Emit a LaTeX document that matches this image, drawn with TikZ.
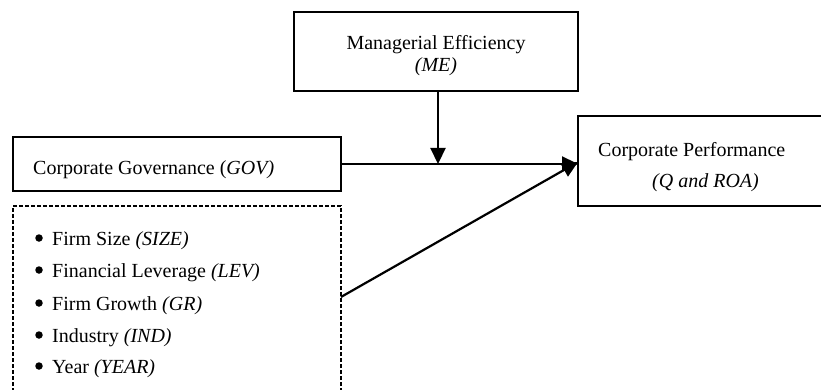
\documentclass[tikz,border=0pt]{standalone}
\usepackage{fontspec}
\setmainfont{Liberation Serif}
\usetikzlibrary{arrows.meta}

\begin{document}
\begin{tikzpicture}[x=1pt,y=-1pt,
  font=\fontsize{20}{24}\selectfont,
  box/.style={draw, line width=1.8pt, rectangle, inner sep=0pt, outer sep=0pt},
  ctrlbox/.style={draw, line width=1.4pt, dash pattern=on 4pt off 2pt, rectangle, inner sep=0pt, outer sep=0pt},
  label/.style={inner sep=0pt, anchor=base west},
  dot/.style={circle, fill, inner sep=0pt, minimum size=7.5pt},
  link/.style={line width=2.2pt, -{Triangle[length=16pt,width=15pt]}}
]
\clip (0,0) rectangle (821,390);

% boxes
\node[box, minimum width=284pt, minimum height=79pt] (me) at (436,51.5) {};
\node[box, minimum width=328pt, minimum height=54pt] (gov) at (177,164) {};
\node[ctrlbox, minimum width=328pt, minimum height=194pt] (ctrl) at (177,303) {};
\node[box, minimum width=320pt, minimum height=90pt] (cp) at (738,161) {};

% box texts
\node[inner sep=0pt, anchor=base] (metxt) at (436,50) {Managerial Efficiency};
\node[inner sep=0pt, anchor=base] (meabbr) at (436,72) {\textit{(ME)}};
\node[label] (govtxt) at (33,175) {Corporate Governance (\textit{GOV)}};
\node[label] (cptxt) at (598,157) {Corporate Performance};
\node[label] (cpabbr) at (652,188) {\textit{(Q and ROA)}};

% control variables
\node[dot] (b1) at (39,238) {};
\node[label] (c1) at (52,245) {Firm Size \textit{(SIZE)}};
\node[dot] (b2) at (39,270) {};
\node[label] (c2) at (52,277) {Financial Leverage \textit{(LEV)}};
\node[dot] (b3) at (39,303) {};
\node[label] (c3) at (52,310) {Firm Growth \textit{(GR)}};
\node[dot] (b4) at (39,335) {};
\node[label] (c4) at (52,342) {Industry \textit{(IND)}};
\node[dot] (b5) at (39,366) {};
\node[label] (c5) at (52,373) {Year \textit{(YEAR)}};

% connectors
\coordinate (cpin) at (cp.west |- gov.east);
\coordinate (mid) at (438,164);
\coordinate (ctrlout) at (341,297);
\draw[link] (gov.east) -- (cpin);
\draw[link] (me.south -| mid) -- (mid);
\draw[link] (ctrlout) -- ([yshift=2pt]cpin);
\end{tikzpicture}
\end{document}
